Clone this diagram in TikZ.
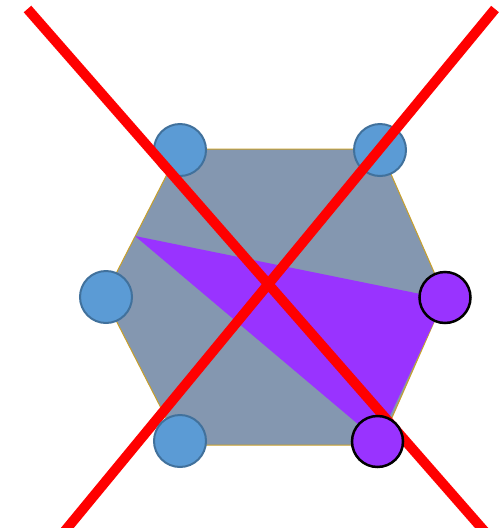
\documentclass[tikz,border=0pt]{standalone}
\begin{document}
\begin{tikzpicture}[x=1pt,y=-1pt,
  hexfill/.style={fill=hexgray,draw=hexedge,line width=1pt},
  tri/.style={fill=vio,draw=none},
  bluedot/.style={circle,minimum size=52pt,inner sep=0pt,fill=dotblue,draw=dotblueedge,line width=2pt},
  violdot/.style={circle,minimum size=51pt,inner sep=0pt,fill=vio,draw=black,line width=2.5pt},
  cross/.style={draw=red,line width=10pt}]
\definecolor{hexgray}{HTML}{8497B0}
\definecolor{hexedge}{HTML}{C9A02A}
\definecolor{vio}{HTML}{9933FF}
\definecolor{dotblue}{HTML}{5B9BD5}
\definecolor{dotblueedge}{HTML}{41719C}
\useasboundingbox (0,0) rectangle (499,528);
% hexagon
\draw[hexfill] (180,149) -- (380,149) -- (445,297) -- (380,445) -- (180,445) -- (104,297) -- cycle;
% violet triangle
\fill[tri] (135,236) -- (445,299) -- (378,441) -- cycle;
% top circles (under the cross)
\node[bluedot] (tl) at (180,150) {};
\node[bluedot] (tr) at (380,150) {};
% red cross
\coordinate (c1a) at (27.5,9);
\coordinate (c1b) at (500,549);
\coordinate (c2a) at (495,9);
\coordinate (c2b) at (50,549);
\draw[cross] (c1a) -- (c1b);
\draw[cross] (c2a) -- (c2b);
% remaining circles
\node[bluedot] (l) at (106,297) {};
\node[bluedot] (bl) at (180,441) {};
\node[violdot] (r) at (445,297.5) {};
\node[violdot] (br) at (377.5,441.5) {};
\end{tikzpicture}
\end{document}
